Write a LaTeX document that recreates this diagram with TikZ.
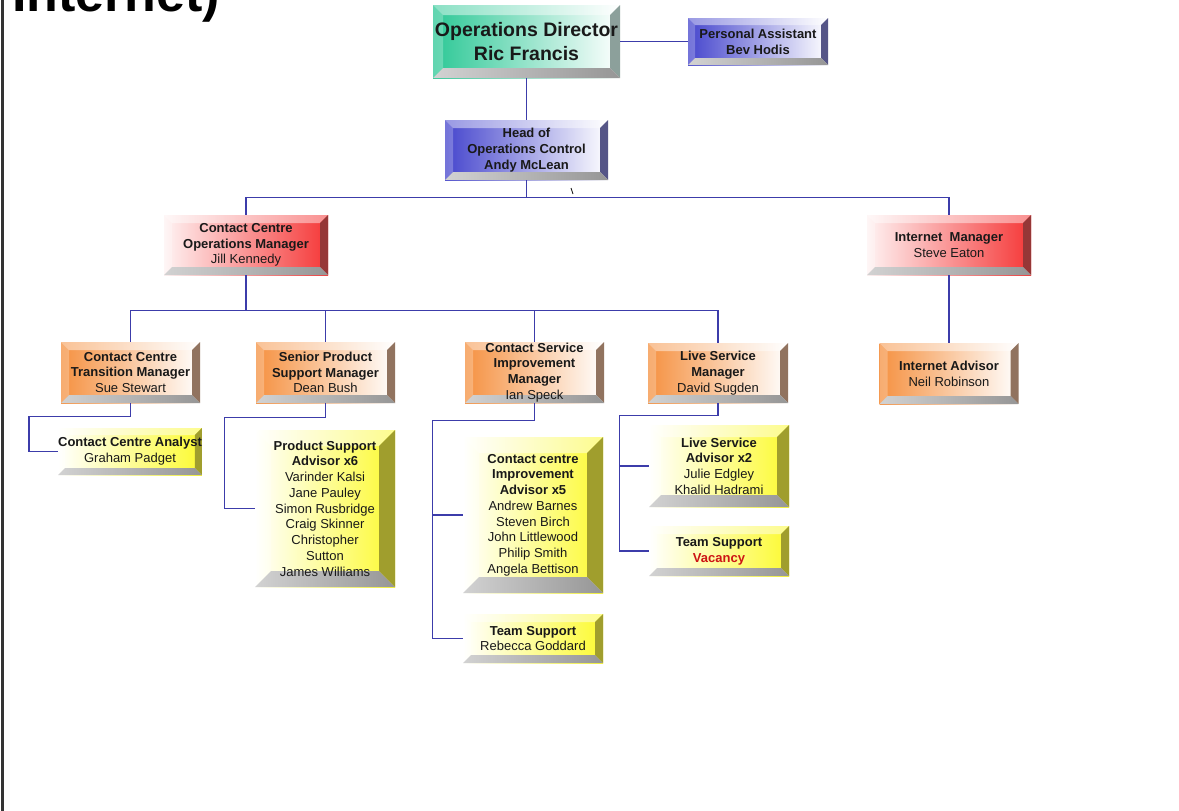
\documentclass[tikz,border=0pt]{standalone}
\usepackage{fontspec}
\setmainfont{Liberation Sans}
\definecolor{ln}{RGB}{60,60,170}
\definecolor{tx}{RGB}{25,25,25}
\definecolor{gF}{RGB}{45,200,150}
\definecolor{gB}{RGB}{140,160,155}
\definecolor{bF}{RGB}{70,70,205}
\definecolor{bB}{RGB}{85,85,135}
\definecolor{rF}{RGB}{245,55,55}
\definecolor{rB}{RGB}{150,55,55}
\definecolor{oF}{RGB}{245,145,65}
\definecolor{oB}{RGB}{145,115,95}
\definecolor{yF}{RGB}{252,250,50}
\definecolor{yB}{RGB}{160,158,45}
\definecolor{gl}{RGB}{210,210,210}
\definecolor{gd}{RGB}{150,150,150}
\definecolor{vac}{RGB}{205,20,20}
\newcommand\fsA{\fontsize{13}{15.75}\selectfont}
\newcommand\fsB{\fontsize{19.5}{24}\selectfont}
\tikzset{
  conn/.style={draw=ln, line width=1.3pt},
  orgbox/.style n args={3}{rectangle, inner sep=0pt, align=center, text=tx, font=\fsA, #3,
    path picture={
      \coordinate (pNE) at (path picture bounding box.north east);
      \coordinate (pSE) at (path picture bounding box.south east);
      \coordinate (pSW) at (path picture bounding box.south west);
      \coordinate (pNW) at (path picture bounding box.north west);
      \fill[white,opacity=.45] (pNW) -- (pNE) -- ([shift={(-#1,-#1)}]pNE) -- ([shift={(#1,-#1)}]pNW) -- cycle;
      \fill[white,opacity=.25] (pNW) -- (pSW) -- ([shift={(#1,#1)}]pSW) -- ([shift={(#1,-#1)}]pNW) -- cycle;
      \fill[#2] (pNE) -- (pSE) -- ([shift={(-#1,#1)}]pSE) -- ([shift={(-#1,-#1)}]pNE) -- cycle;
      \shade[left color=gl, right color=gd] (pSW) -- (pSE) -- ([shift={(-#1,#1)}]pSE) -- ([shift={(#1,#1)}]pSW) -- cycle;
    }},
  green/.style={orgbox={10pt}{gB}{left color=gF, right color=white}},
  blue/.style={orgbox={#1}{bB}{left color=bF, right color=white}},
  red/.style={orgbox={8pt}{rB}{left color=rF!6, right color=rF}},
  orange/.style={orgbox={8pt}{oB}{left color=oF, right color=white}},
  yellow/.style={orgbox={#1}{yB}{left color=white, right color=yF}},
}
\begin{document}
\begin{tikzpicture}[x=1pt,y=-1pt]
\useasboundingbox (0,0) rectangle (1179,811);
\clip (0,0) rectangle (1179,811);
\fill[white] (0,0) rectangle (1179,811);

% title (cut off at the top, as in the reference)
\node[anchor=base west, inner sep=0pt, font=\fontsize{52}{52}\selectfont\bfseries, text=black] (title) at (12,12) {Internet)};
% left frame line
\draw[gray!40!black, line width=2.2pt] (2.5,0) -- (2.5,811);

% boxes
\node[green, minimum width=187pt, minimum height=73pt, font=\fsB] (od) at (526.5,41.5) {\textbf{Operations Director}\\\textbf{Ric Francis}};
\node[blue=7pt, minimum width=140pt, minimum height=47pt] (pa) at (758,41.5) {\textbf{Personal Assistant}\\\textbf{Bev Hodis}};
\node[blue=8pt, minimum width=163pt, minimum height=60pt] (hoc) at (526.5,150) {\textbf{Head of}\\\textbf{Operations Control}\\\textbf{Andy McLean}};
\node[red, minimum width=164pt, minimum height=60pt] (ccom) at (246,245) {\textbf{Contact Centre}\\\textbf{Operations Manager}\\Jill Kennedy};
\node[red, minimum width=164pt, minimum height=60pt] (im) at (949,245) {\textbf{Internet\ \ Manager}\\Steve Eaton};
\node[orange, minimum width=139pt, minimum height=61pt] (cctm) at (130.5,372.5) {\textbf{Contact Centre}\\\textbf{Transition Manager}\\Sue Stewart};
\node[orange, minimum width=139pt, minimum height=61pt] (spsm) at (325.5,372.5) {\textbf{Senior Product}\\\textbf{Support Manager}\\Dean Bush};
\node[orange, minimum width=139pt, minimum height=61pt] (csim) at (534.5,372.5) {\textbf{Contact Service}\\\textbf{Improvement}\\\textbf{Manager}\\Ian Speck};
\node[orange, minimum width=140pt, minimum height=60pt] (lsm) at (718,373) {\textbf{Live Service}\\\textbf{Manager}\\David Sugden};
\node[orange, minimum width=139pt, minimum height=61pt] (ia) at (949,373.5) {\textbf{Internet Advisor}\\Neil Robinson};
\node[yellow=7pt, minimum width=140pt, minimum height=47pt] (cca) at (130,451.5) {\textbf{Contact Centre Analyst}\\Graham Padget};
\node[yellow=16pt, minimum width=140pt, minimum height=157pt] (psa) at (325,508.5) {\textbf{Product Support}\\\textbf{Advisor x6}\\Varinder Kalsi\\Jane Pauley\\Simon Rusbridge\\Craig Skinner\\Christopher\\Sutton\\James Williams};
\node[yellow=16pt, minimum width=140pt, minimum height=156pt] (ccia) at (533,515) {\textbf{Contact centre}\\\textbf{Improvement}\\\textbf{Advisor x5}\\Andrew Barnes\\Steven Birch\\John Littlewood\\Philip Smith\\Angela Bettison};
\node[yellow=8pt, minimum width=140pt, minimum height=49pt] (tsr) at (533,638.5) {\textbf{Team Support}\\Rebecca Goddard};
\node[yellow=12pt, minimum width=140pt, minimum height=82pt] (lsa) at (719,466) {\textbf{Live Service}\\\textbf{Advisor x2}\\Julie Edgley\\Khalid Hadrami};
\node[yellow=8pt, minimum width=140pt, minimum height=50pt] (tsv) at (719,551) {\textbf{Team Support}\\\textcolor{vac}{\textbf{Vacancy}}};

% connectors
\draw[conn] (od.east) -- (pa.west);
\draw[conn] (od.south) -- (hoc.north);
\draw[conn] (hoc.south) -- ++(0,17) coordinate (j1);
\draw[conn] (ccom.north) |- (j1) -| (im.north);
\draw[conn] (ccom.south) -- ++(0,35) coordinate (j2);
\draw[conn] (cctm.north) |- (j2) -| (lsm.north);
\draw[conn] (spsm.north) -- (spsm.north |- j2);
\draw[conn] (csim.north) -- (csim.north |- j2);
\draw[conn] (im.south) -- (ia.north);
\draw[conn] (cctm.south) -- ++(0,13) -| ([xshift=-29pt]cca.west) -- (cca.west);
\draw[conn] (spsm.south) -- ++(0,14) -| ([xshift=-30pt]psa.west) -- (psa.west);
\draw[conn] (csim.south) -- ++(0,17) -| ([xshift=-30pt]tsr.west) -- (tsr.west);
\draw[conn] (ccia.west) -- ++(-30,0);
\draw[conn] (lsm.south) -- ++(0,12) -| ([xshift=-29pt]tsv.west) -- (tsv.west);
\draw[conn] (lsa.west) -- ++(-29,0);
% stray tick
\draw[tx, line width=0.8pt] (571,188) -- (573,194);
\end{tikzpicture}
\end{document}
